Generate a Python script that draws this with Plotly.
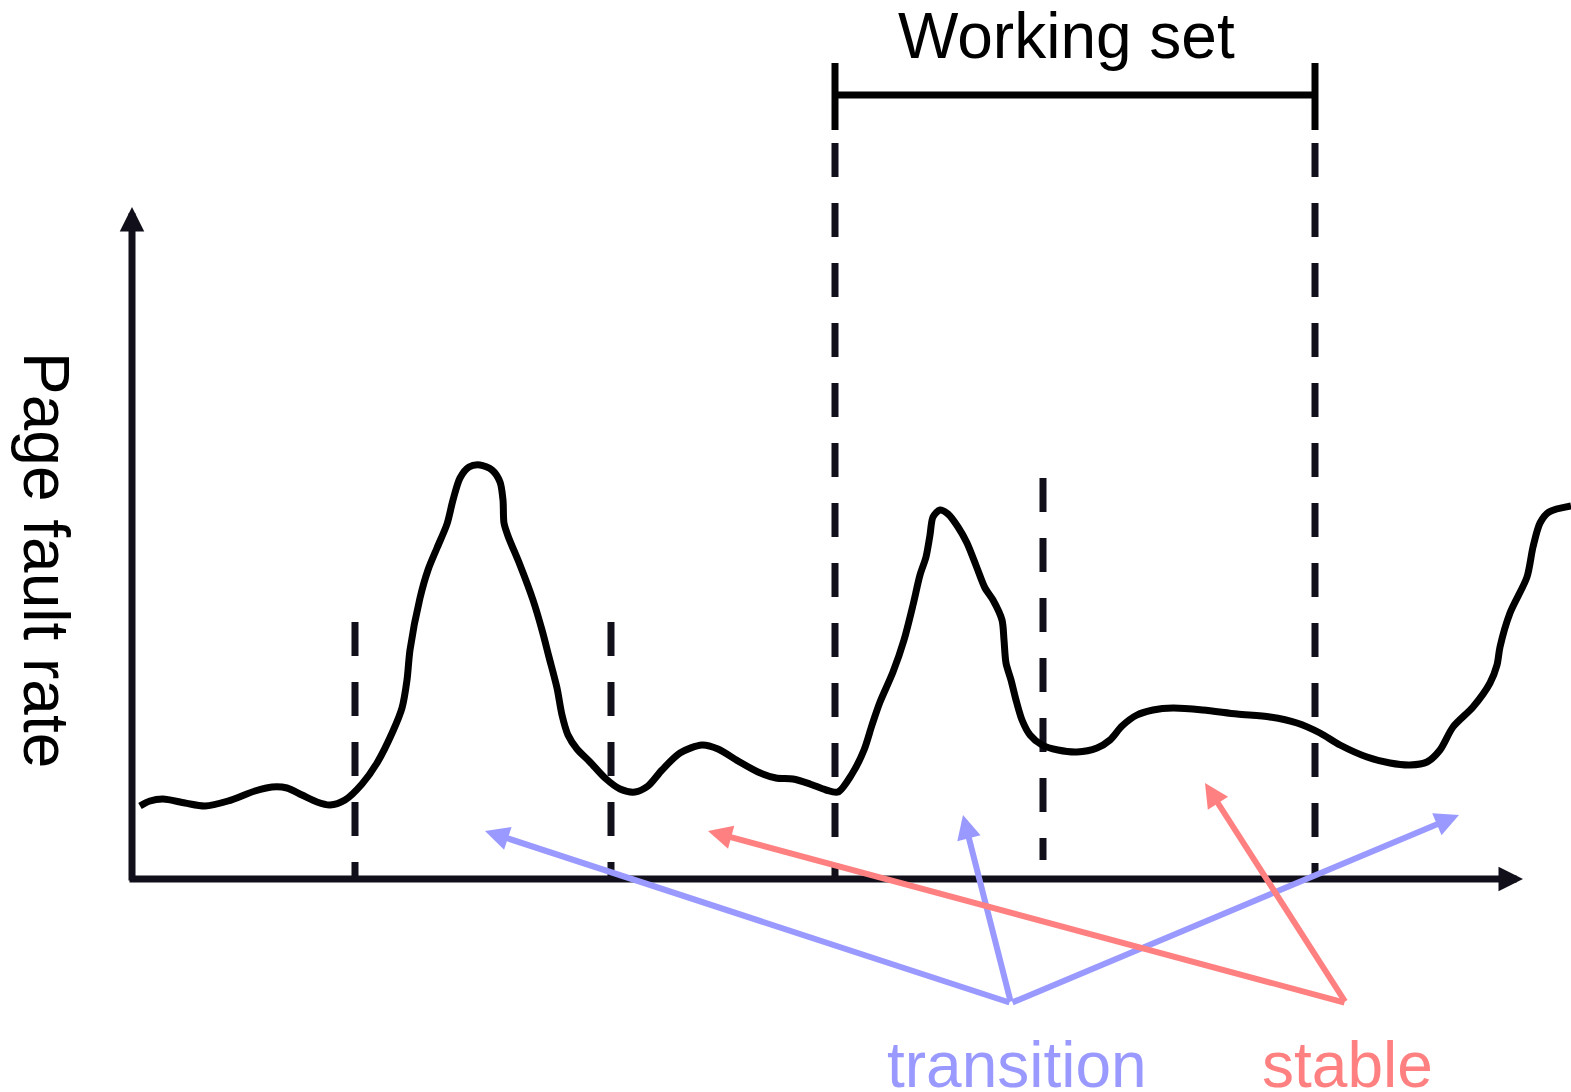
import plotly.graph_objects as go

# ---- data (time on x, page-fault rate on y; origin at the axis corner) ----
curve_time = [8, 18, 31, 53, 73, 96, 123, 140, 155, 170, 185, 198, 213, 230, 245, 261, 270, 275,
              278, 288, 296, 305, 315, 321, 328, 337, 348, 360, 368, 371, 372, 376, 388, 401, 410,
              417, 425, 430, 436, 445, 458, 473, 488, 503, 516, 530, 548, 570, 586, 606, 626, 644,
              661, 678, 694, 706, 720, 732, 740, 748, 761, 772, 781, 788, 794, 798, 801, 808, 816,
              826, 835, 845, 853, 861, 870, 872, 874, 879, 884, 890, 898, 910, 926, 945, 965, 978,
              990, 1005, 1021, 1041, 1071, 1105, 1138, 1165, 1188, 1208, 1235, 1258, 1278, 1295,
              1308, 1321, 1341, 1358, 1365, 1368, 1378, 1395, 1401, 1408, 1417, 1439]
curve_rate = [73, 78, 80, 76, 73, 78, 88, 92, 91, 84, 77, 74, 79, 95, 116, 148, 171, 199,
              229, 281, 309, 331, 355, 379, 401, 412, 414, 409, 397, 379, 356, 343, 314, 279, 249,
              222, 191, 164, 144, 130, 117, 101, 90, 87, 93, 109, 126, 134, 130, 118, 107, 101,
              100, 95, 89, 87, 105, 129, 154, 177, 207, 239, 274, 304, 322, 344, 362, 369, 365,
              352, 336, 311, 291, 279, 259, 239, 216, 199, 179, 159, 144, 134, 129, 127, 131, 139,
              153, 164, 169, 171, 169, 165, 162, 156, 146, 134, 122, 116, 114, 117,
              129, 152, 172, 196, 214, 232, 266, 302, 332, 356, 367, 373]

# phase boundaries (time, top rate, bottom rate)
boundary_time = [223, 479, 703, 911, 1183]
boundary_top = [257, 257, 736, 401, 736]
boundary_bottom = [0, 0, 0, 19, 0]

# working-set bracket
ws_start, ws_end, ws_level = 703, 1183, 784
ws_tick_top, ws_tick_bottom = 816, 749

# axis extents
axis_x_end, axis_y_end = 1391, 672

# labelled arrows: (tail time, tail rate) -> (tip time, tip rate)
transition_tail = (879, -124)
transition_tips = [(353, 48), (831, 64), (1327, 64)]
stable_tail = (1214, -124)
stable_tips = [(576, 48), (1073, 96)]

AXIS = "#100f1a"
BLUE = "#9999ff"
RED = "#ff8080"
FONT = "Liberation Sans, Arial, sans-serif"

fig = go.Figure()

# dashed phase boundaries
for t, top, bot in zip(boundary_time, boundary_top, boundary_bottom):
    fig.add_trace(go.Scatter(x=[t, t], y=[top, bot], mode="lines",
                             line=dict(color=AXIS, width=7, dash="34px,26px"),
                             hoverinfo="skip", showlegend=False))

# working set bracket
fig.add_trace(go.Scatter(x=[ws_start, ws_end], y=[ws_level, ws_level], mode="lines",
                         line=dict(color="black", width=7), hoverinfo="skip", showlegend=False))
for t in (ws_start, ws_end):
    fig.add_trace(go.Scatter(x=[t, t], y=[ws_tick_top, ws_tick_bottom], mode="lines",
                             line=dict(color="black", width=7), hoverinfo="skip", showlegend=False))

# page-fault curve
fig.add_trace(go.Scatter(x=curve_time, y=curve_rate, mode="lines",
                         line=dict(color="black", width=7, shape="spline", smoothing=0.8),
                         hoverinfo="skip", showlegend=False))

annotations = []
# axes with arrowheads
annotations.append(dict(x=axis_x_end, y=0, ax=-4, ay=0, xref="x", yref="y", axref="x", ayref="y",
                        text="", showarrow=True, arrowhead=2, arrowsize=0.7, arrowwidth=7,
                        arrowcolor=AXIS, standoff=0, startstandoff=0))
annotations.append(dict(x=0, y=axis_y_end, ax=0, ay=-3, xref="x", yref="y", axref="x", ayref="y",
                        text="", showarrow=True, arrowhead=2, arrowsize=0.7, arrowwidth=7,
                        arrowcolor=AXIS, standoff=0, startstandoff=0))
for tip in transition_tips:
    annotations.append(dict(x=tip[0], y=tip[1], ax=transition_tail[0], ay=transition_tail[1],
                            xref="x", yref="y", axref="x", ayref="y", text="", showarrow=True,
                            arrowhead=2, arrowsize=0.8, arrowwidth=6, arrowcolor=BLUE,
                            standoff=0, startstandoff=0))
for tip in stable_tips:
    annotations.append(dict(x=tip[0], y=tip[1], ax=stable_tail[0], ay=stable_tail[1],
                            xref="x", yref="y", axref="x", ayref="y", text="", showarrow=True,
                            arrowhead=2, arrowsize=0.8, arrowwidth=6, arrowcolor=RED,
                            standoff=0, startstandoff=0))

# texts
annotations.append(dict(x=934, y=843, xref="x", yref="y", text="Working set", showarrow=False,
                        font=dict(family=FONT, size=64, color="black"),
                        xanchor="center", yanchor="middle"))
annotations.append(dict(x=-86, y=319, xref="x", yref="y", text="Page fault rate", showarrow=False,
                        textangle=90, font=dict(family=FONT, size=64, color="black"),
                        xanchor="center", yanchor="middle"))
annotations.append(dict(x=885, y=-186, xref="x", yref="y", text="transition", showarrow=False,
                        font=dict(family=FONT, size=64, color=BLUE),
                        xanchor="center", yanchor="middle"))
annotations.append(dict(x=1215, y=-186, xref="x", yref="y", text="stable", showarrow=False,
                        font=dict(family=FONT, size=64, color=RED),
                        xanchor="center", yanchor="middle"))

fig.update_layout(
    width=1571, height=1092,
    margin=dict(l=0, r=0, t=0, b=0, pad=0),
    paper_bgcolor="white", plot_bgcolor="white",
    xaxis=dict(range=[-132, 1439], visible=False, fixedrange=True),
    yaxis=dict(range=[-213, 879], visible=False, fixedrange=True),
    annotations=annotations,
    showlegend=False,
)

fig.write_html("out.html", config={"displayModeBar": False},
               post_script="document.body.style.margin='0';document.body.style.overflow='hidden';")
